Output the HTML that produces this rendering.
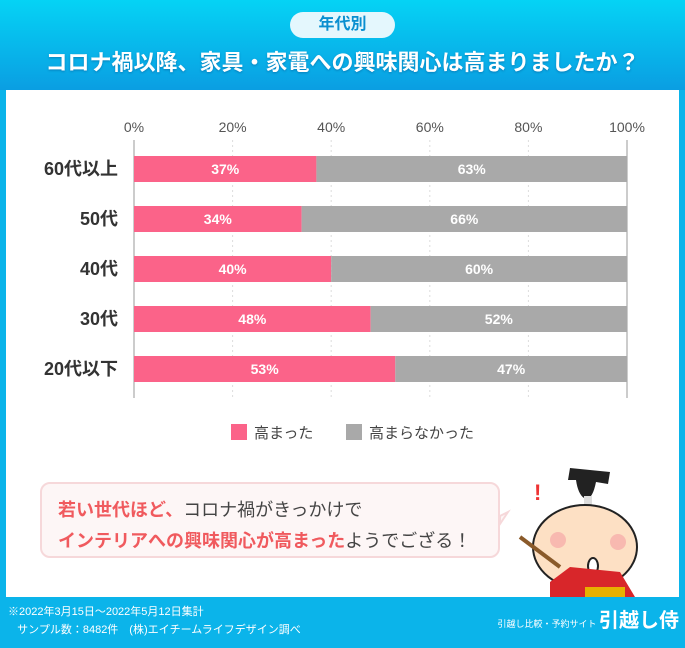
<!DOCTYPE html>
<html><head><meta charset="utf-8"><style>
body{margin:0;width:685px;height:648px;overflow:hidden;font-family:"Liberation Sans","Noto Sans CJK JP",sans-serif;background:#0bb4ea;position:relative}
.abs{position:absolute}
</style></head><body>
<div class="abs" style="left:0;top:0;width:685px;height:90px;background:linear-gradient(#05d3f5,#0a9ee2)"></div>
<div class="abs" style="left:290px;top:12px;width:105px;height:26px;border-radius:13px;background:#e4f7fd;color:#0a8fd0;font-weight:bold;font-size:16px;text-align:center;line-height:26px">年代別</div>
<div class="abs" style="left:0;top:46px;width:685px;text-align:center;color:#fff;font-weight:bold;font-size:22px;line-height:34px;text-shadow:0 1px 2px rgba(0,60,120,.4)">コロナ禍以降、家具・家電への興味関心は高まりましたか？</div>
<div class="abs" style="left:6px;top:90px;width:673px;height:507px;background:#fff"></div>
<svg class="abs" style="left:0;top:0" width="685" height="648" id="chart"></svg>
<div class="abs" style="left:40px;top:482px;width:460px;height:76px;border:2px solid #f6d8da;border-radius:10px;background:#fdf6f6;box-sizing:border-box;padding:11px 0 0 16px;font-size:18px;line-height:31px;color:#444">
<span style="color:#f05a5e;font-weight:bold">若い世代ほど、</span>コロナ禍がきっかけで<br><span style="color:#f05a5e;font-weight:bold">インテリアへの興味関心が高まった</span>ようでござる！</div>
<svg class="abs" style="left:500px;top:462px" width="180" height="135">
<polygon points="8,50 0,54 0,62" fill="#fdf6f6" stroke="#f6d8da" stroke-width="2"/>
<text x="34" y="38" fill="#e33" font-size="22" font-weight="bold" font-family="Liberation Sans">!</text>
<path d="M70 6 L110 10 L108 22 L96 20 Q92 40 84 36 Q78 32 76 18 L68 18Z" fill="#222"/>
<rect x="84" y="34" width="8" height="16" fill="#ddd"/>
<ellipse cx="85" cy="85" rx="52" ry="42" fill="#fde0c4" stroke="#222" stroke-width="2"/>
<circle cx="58" cy="78" r="8" fill="#f8b9b0"/><circle cx="118" cy="80" r="8" fill="#f8b9b0"/>
<ellipse cx="93" cy="104" rx="5" ry="8" fill="#fff" stroke="#222" stroke-width="2"/>
<line x1="20" y1="75" x2="60" y2="105" stroke="#8a5a2a" stroke-width="4"/>
<path d="M50 120 L70 105 L120 110 L135 135 L50 135Z" fill="#d8262a"/>
<rect x="85" y="125" width="40" height="10" fill="#e7b000"/>
</svg>
<div class="abs" style="left:8px;top:603px;color:#fff;font-size:11px;line-height:18px">※2022年3月15日～2022年5月12日集計<br>&nbsp;&nbsp;&nbsp;サンプル数：8482件　(株)エイチームライフデザイン調べ</div>
<div class="abs" style="right:6px;top:607px;color:#fff;font-size:9px;line-height:28px;white-space:nowrap;text-align:right">引越し比較・予約サイト <span style="font-size:20px;font-weight:bold">引越し侍</span></div>
<script>
const categories=["60代以上","50代","40代","30代","20代以下"];
const increased=[37,34,40,48,53];
const notIncreased=[63,66,60,52,47];
const ticks=[0,20,40,60,80,100];
const NS="http://www.w3.org/2000/svg";
const svg=document.getElementById('chart');
const x0=134,x1=627,yTop=156,step=50,bh=26;
const xs=v=>x0+(x1-x0)*v/100;
const ys=i=>yTop+i*step;
function mk(t,a){const e=document.createElementNS(NS,t);for(const k in a)e.setAttribute(k,a[k]);svg.appendChild(e);return e;}
ticks.forEach(t=>{
 const l=mk('line',{x1:xs(t),x2:xs(t),y1:140,y2:398,stroke:(t==0||t==100)?'#ccc':'#ddd','stroke-width':(t==0||t==100)?2:1,'stroke-dasharray':(t==0||t==100)?'':'2,3'});
 
 
 const tx=mk('text',{x:xs(t),y:132,'text-anchor':'middle','font-size':14,fill:'#555'});
 tx.textContent=t+'%';
 
 
});
categories.forEach((c,i)=>{
 const y=ys(i);
 const lb=mk('text',{x:118,y:y+bh/2+6,'text-anchor':'end','font-size':18,'font-weight':'bold',fill:'#333'});
 lb.textContent=c;
 
 
 const a=mk('rect',{x:xs(0),y:y,width:xs(increased[i])-xs(0),height:bh,fill:'#fb6389'});
 
 
 const b=mk('rect',{x:xs(increased[i]),y:y,width:xs(increased[i]+notIncreased[i])-xs(increased[i]),height:bh,fill:'#a9a9a9'});
 
 
 const t1=mk('text',{x:(xs(0)+xs(increased[i]))/2,y:y+bh/2+5,'text-anchor':'middle','font-size':14,'font-weight':'bold',fill:'#fff'});
 t1.textContent=increased[i]+'%';
 
 
 const t2=mk('text',{x:(xs(increased[i])+xs(increased[i]+notIncreased[i]))/2,y:y+bh/2+5,'text-anchor':'middle','font-size':14,'font-weight':'bold',fill:'#fff'});
 t2.textContent=notIncreased[i]+'%';
 
 
});
[["高まった","#fb6389",231],["高まらなかった","#a9a9a9",346]].forEach(([n,c,x])=>{
 const r=mk('rect',{x:x,y:424,width:16,height:16,fill:c});
 
 
 const t=mk('text',{x:x+23,y:438,'font-size':15,fill:'#444'});
 t.textContent=n;
 
 
});
</script>
</body></html>
